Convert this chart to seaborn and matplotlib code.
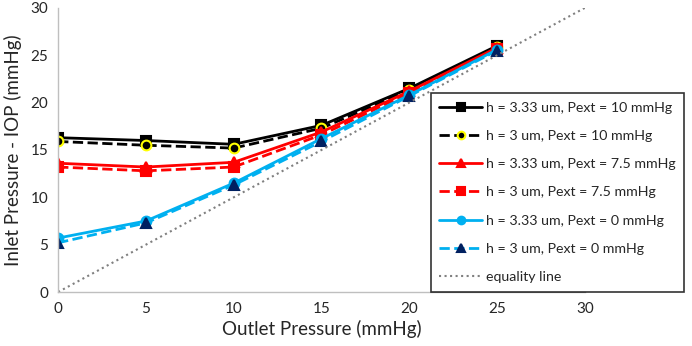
import numpy as np
import pandas as pd
import seaborn as sns
import matplotlib.pyplot as plt

outlet = [0, 5, 10, 15, 20, 25]
h333_p10 = [16.3, 16.0, 15.6, 17.6, 21.5, 26.0]
h3_p10 = [15.9, 15.5, 15.2, 17.3, 21.3, 25.9]
h333_p75 = [13.6, 13.2, 13.7, 16.9, 21.2, 25.8]
h3_p75 = [13.2, 12.8, 13.2, 16.6, 21.0, 25.7]
h333_p0 = [5.7, 7.5, 11.5, 16.2, 20.8, 25.6]
h3_p0 = [5.2, 7.3, 11.3, 15.9, 20.7, 25.5]
equality = [0, 30]

sns.set_style('white')
plt.rcParams['font.family'] = ['Lato', 'DejaVu Sans']

fig = plt.figure(figsize=(6.92, 3.46), dpi=100)
ax = fig.add_axes([0.084, 0.156, 0.761, 0.821])

series = [
    ('h = 3.33 um, Pext = 10 mmHg', h333_p10, 'black', '-', 's', 'black', 'black'),
    ('h = 3 um, Pext = 10 mmHg', h3_p10, 'black', '--', 'o', 'black', '#FFFF00'),
    ('h = 3.33 um, Pext = 7.5 mmHg', h333_p75, '#FF0000', '-', '^', '#FF0000', '#FF0000'),
    ('h = 3 um, Pext = 7.5 mmHg', h3_p75, '#FF0000', '--', 's', '#FF0000', '#FF0000'),
    ('h = 3.33 um, Pext = 0 mmHg', h333_p0, '#00B0F0', '-', 'o', '#00B0F0', '#00B0F0'),
    ('h = 3 um, Pext = 0 mmHg', h3_p0, '#00B0F0', '--', '^', '#002060', '#002060'),
]

for label, vals, col, ls, mk, mfc, mec in series:
    df = pd.DataFrame({'x': outlet, 'y': vals})
    sns.lineplot(data=df, x='x', y='y', ax=ax, color=col, linestyle=ls, linewidth=2,
                 marker=mk, markersize=7, markerfacecolor=mfc, markeredgecolor=mec,
                 markeredgewidth=1.5, label=label)

sns.lineplot(x=equality, y=equality, ax=ax, color='#808080', linestyle=':',
             linewidth=1.5, label='equality line')

ax.set_xlim(0, 30)
ax.set_ylim(0, 30)
ax.set_xticks(range(0, 31, 5))
ax.set_yticks(range(0, 31, 5))
ax.tick_params(labelsize=11, length=0, pad=7)
for s in ['top', 'right']:
    ax.spines[s].set_visible(False)
for s in ['left', 'bottom']:
    ax.spines[s].set_color('#BFBFBF')
    ax.spines[s].set_linewidth(1)
ax.set_xlabel('Outlet Pressure (mmHg)', fontsize=13.5, labelpad=3)
ax.set_ylabel('Inlet Pressure - IOP (mmHg)', fontsize=13.5, labelpad=6)

leg = ax.legend(loc='upper left', bbox_to_anchor=(431 / 692, 1 - 93 / 346),
                bbox_transform=fig.transFigure, borderaxespad=0, fontsize=10.2,
                frameon=True, fancybox=False, edgecolor='black', labelspacing=1.15,
                handlelength=3.0, handletextpad=0.3, borderpad=0.6)
leg.get_frame().set_linewidth(1.2)
for h in leg.legend_handles:
    h.set_markersize(5.5)

fig.savefig('out.png', dpi=100)
